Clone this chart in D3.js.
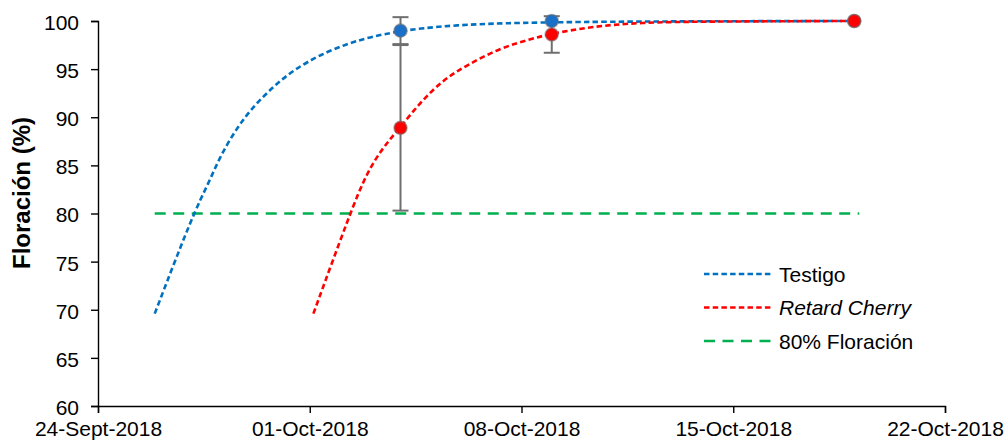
<!DOCTYPE html>
<html>
<head>
<meta charset="utf-8">
<script src="https://cdn.jsdelivr.net/npm/d3@7"></script>
<style>
  body { margin: 0; background: #fff; }
  svg { display: block; font-family: "Liberation Sans", Arial, sans-serif; }
</style>
</head>
<body>
<div id="chart"></div>
<script>
// fechas de medición y valores medios (%)
const fechas = ["2018-10-04", "2018-10-09", "2018-10-19"];
const testigo = [99.0, 100, 100];
const testigoErr = [1.4, 0, 0];
const retard = [88.9, 98.6, 100];
const retardErr = [8.6, 1.9, 0];

// líneas de tendencia: [fecha, %]
const tendTestigo = [
  ["2018-09-25T21:00", 69.6], ["2018-09-27T03:36", 80.0], ["2018-09-27T15:36", 83.1],
  ["2018-09-28T00:43", 85.9], ["2018-09-28T14:10", 88.9], ["2018-09-29T03:07", 91.1],
  ["2018-09-29T19:12", 93.2], ["2018-09-30T11:02", 94.9], ["2018-10-01T08:09", 96.5],
  ["2018-10-02T10:33", 97.9], ["2018-10-03T18:14", 98.9], ["2018-10-05T15:21", 99.6],
  ["2018-10-08T23:31", 99.95], ["2018-10-19T00:00", 100]
];
const tendRetard = [
  ["2018-10-01T02:53", 69.6], ["2018-10-02T07:55", 80.0], ["2018-10-02T21:07", 84.2],
  ["2018-10-03T10:19", 86.9], ["2018-10-03T23:31", 88.9], ["2018-10-04T15:22", 91.5],
  ["2018-10-05T09:50", 93.9], ["2018-10-06T04:34", 95.4], ["2018-10-07T06:58", 97.2],
  ["2018-10-08T09:22", 98.2], ["2018-10-08T22:34", 98.65], ["2018-10-10T06:14", 99.4],
  ["2018-10-11T22:05", 99.85], ["2018-10-14T02:53", 99.95], ["2018-10-18T20:38", 100]
];
const umbral = 80;
const umbralRango = ["2018-09-25T21:00", "2018-10-19T04:00"];

const xTicks = ["2018-09-24", "2018-10-01", "2018-10-08", "2018-10-15", "2018-10-22"];
const xTickLabels = ["24-Sept-2018", "01-Oct-2018", "08-Oct-2018", "15-Oct-2018", "22-Oct-2018"];
const yTicks = [60, 65, 70, 75, 80, 85, 90, 95, 100];

const leyenda = [
  { nombre: "Testigo", color: "#0070C0", dash: "5.5,3.2", italic: false },
  { nombre: "Retard Cherry", color: "#FF0000", dash: "5.5,3.2", italic: true },
  { nombre: "80% Floración", color: "#00B050", dash: "11,7.5", italic: false }
];

const width = 1004, height = 442;
const margin = { top: 21, right: 59, bottom: 36, left: 98 };

const parse = d3.isoParse;
const svg = d3.select("#chart").append("svg")
  .attr("width", width)
  .attr("height", height);

const x = d3.scaleTime()
  .domain([parse(xTicks[0]), parse(xTicks[xTicks.length - 1])])
  .range([margin.left, width - margin.right]);
const y = d3.scaleLinear()
  .domain([60, 100])
  .range([height - margin.bottom, margin.top]);

// ejes
const xAxis = svg.append("g")
  .attr("transform", `translate(0,${y(60)})`)
  .call(d3.axisBottom(x)
    .tickValues(xTicks.map(parse))
    .tickSize(7)
    .tickFormat((d, i) => xTickLabels[i]));
xAxis.selectAll("text").attr("y", 11).attr("dy", "0.92em").style("font-size", "21px").attr("fill", "#000");

const yAxis = svg.append("g")
  .attr("transform", `translate(${x(parse(xTicks[0]))},0)`)
  .call(d3.axisLeft(y).tickValues(yTicks).tickSize(7).tickPadding(12));
yAxis.selectAll("text").attr("dy", "0.4em").style("font-size", "21px").attr("fill", "#000");

svg.selectAll(".domain, .tick line").attr("stroke", "#000").attr("stroke-width", 1.4);

svg.append("text")
  .attr("transform", `translate(30,193) rotate(-90)`)
  .attr("text-anchor", "middle")
  .style("font-size", "24px")
  .style("font-weight", "bold")
  .text("Floración (%)");

// línea 80 %
svg.append("line")
  .attr("x1", x(parse(umbralRango[0])))
  .attr("x2", x(parse(umbralRango[1])))
  .attr("y1", y(umbral))
  .attr("y2", y(umbral))
  .attr("stroke", "#00B050")
  .attr("stroke-width", 2.6)
  .attr("stroke-dasharray", "11,7.5");

const line = d3.line()
  .x(d => x(parse(d[0])))
  .y(d => y(d[1]))
  .curve(d3.curveBasis);

svg.append("path")
  .datum(tendTestigo)
  .attr("d", line)
  .attr("fill", "none")
  .attr("stroke", "#0070C0")
  .attr("stroke-width", 2.6)
  .attr("stroke-dasharray", "5.5,3.2");

svg.append("path")
  .datum(tendRetard)
  .attr("d", line)
  .attr("fill", "none")
  .attr("stroke", "#FF0000")
  .attr("stroke-width", 2.6)
  .attr("stroke-dasharray", "5.5,3.2");

// barras de error
function errorBars(vals, errs) {
  const g = svg.append("g").attr("stroke", "#6f6f6f").attr("stroke-width", 2);
  fechas.forEach((f, i) => {
    if (!errs[i]) return;
    const cx = x(parse(f));
    const top = y(vals[i] + errs[i]), bot = y(vals[i] - errs[i]);
    g.append("line").attr("x1", cx).attr("x2", cx).attr("y1", top).attr("y2", bot);
    [top, bot].forEach(yy => g.append("line")
      .attr("x1", cx - 8).attr("x2", cx + 8).attr("y1", yy).attr("y2", yy));
  });
}
errorBars(testigo, testigoErr);
errorBars(retard, retardErr);

function markers(vals, color) {
  svg.append("g")
    .selectAll("circle")
    .data(vals)
    .join("circle")
    .attr("cx", (d, i) => x(parse(fechas[i])))
    .attr("cy", d => y(d))
    .attr("r", 6.5)
    .attr("fill", color)
    .attr("stroke", "rgba(110,110,110,0.55)")
    .attr("stroke-width", 1.6);
}
markers(testigo, "#1a70c8");
markers(retard, "#FF0000");

// leyenda
const lg = svg.append("g").attr("transform", "translate(704,274)");
leyenda.forEach((d, i) => {
  const row = lg.append("g").attr("transform", `translate(0,${i * 33.5})`);
  row.append("line")
    .attr("x1", 0).attr("x2", 68)
    .attr("stroke", d.color)
    .attr("stroke-width", 2.6)
    .attr("stroke-dasharray", d.dash);
  row.append("text")
    .attr("x", 75)
    .attr("dy", "0.36em")
    .style("font-size", "21px")
    .style("font-style", d.italic ? "italic" : "normal")
    .text(d.nombre);
});
</script>
</body>
</html>
